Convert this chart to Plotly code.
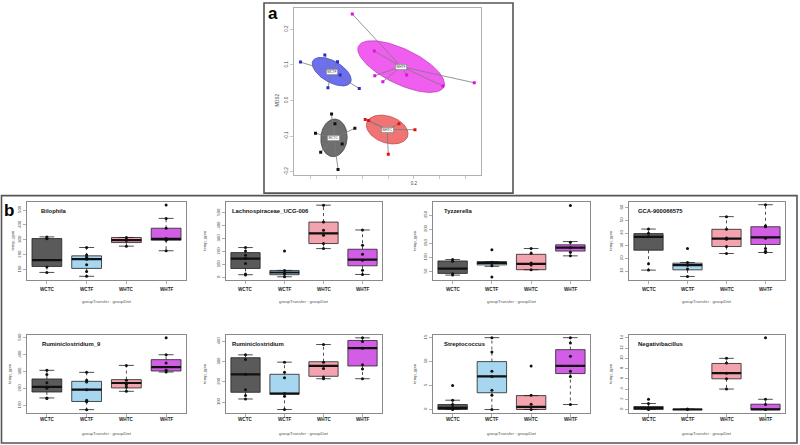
import numpy as np
import plotly.graph_objects as go

# ---------------- Panel a: NMDS ordination ----------------
NMDS_GROUPS = ["WCTC", "WCTF", "WHTC", "WHTF"]
WCTC_MDS1 = [-0.118, -0.105, -0.180, -0.028, -0.077, -0.160, -0.093]
WCTC_MDS2 = [-0.038, -0.065, -0.092, -0.078, -0.122, -0.145, -0.194]
WCTF_MDS1 = [-0.238, -0.144, -0.095, -0.085, -0.132, -0.011]
WCTF_MDS2 = [0.108, 0.128, 0.109, 0.072, 0.036, 0.034]
WHTC_MDS1 = [0.012, 0.025, 0.142, 0.204, 0.101]
WHTC_MDS2 = [-0.053, -0.056, -0.065, -0.082, -0.151]
WHTF_MDS1 = [-0.038, 0.047, 0.049, 0.080, 0.172, 0.312, 0.433]
WHTF_MDS2 = [0.243, 0.139, 0.070, 0.053, 0.072, 0.041, 0.050]
NMDS_X_TICKS = [-0.2, -0.1, 0.0, 0.1, 0.2, 0.3, 0.4]
NMDS_X_TICK_TEXT = ["", "", "", "", "0.2", "", ""]
NMDS_Y_TICKS = [-0.2, -0.1, 0.0, 0.1, 0.2]
NMDS_Y_TICK_TEXT = ["-0.2", "-0.1", "0.0", "0.1", "0.2"]

# ---------------- Panel b: boxplots ----------------
TAXA = ["Bilophila", "Lachnospiraceae_UCG-006", "Tyzzerella", "GCA-900066575",
        "Ruminiclostridium_9", "Ruminiclostridium", "Streptococcus", "Negativibacillus"]
GROUPS = ["WCTC", "WCTF", "WHTC", "WHTF"]

WHISKER_LOW = [
    [82, 56, 258, 227],
    [21, 5, 223, 23],
    [38, 69, 57, 106],
    [10.8, 5.8, 23.9, 24.7],
    [145, 76, 184, 298],
    [116, 64, 216, 216],
    [0, 0, 0, 1.04],
    [0, 0, 4, 0],
]
Q1 = [
    [122, 109, 282, 298],
    [69, 21, 262, 90],
    [44, 74, 57, 123],
    [26.5, 11, 29.4, 31],
    [180, 124, 204, 304],
    [149, 139, 228, 279],
    [0, 3.5, 0, 7.5],
    [0, 0, 6, 0],
]
MEDIAN = [
    [164, 171, 298, 307],
    [146, 38, 341, 138],
    [61, 81, 78, 135],
    [37, 14.7, 35.7, 36.7],
    [210, 194, 233, 327],
    [238, 143, 280, 367],
    [0.35, 6.9, 0.55, 9.1],
    [0.3, 0, 7.1, 0],
]
Q3 = [
    [309, 193, 316, 378],
    [192, 54, 428, 218],
    [88, 85.5, 111.5, 145],
    [39.6, 16.3, 43, 45],
    [257, 243, 253, 371],
    [320, 238, 300, 405],
    [1.04, 10, 2.9, 12.5],
    [0.58, 0.1, 9, 1.04],
]
WHISKER_HIGH = [
    [320, 249, 316, 444],
    [231, 54, 559, 367],
    [93, 85.5, 132, 156.5],
    [43.2, 16.8, 53, 62.4],
    [308, 296, 337, 400],
    [334, 298, 385, 418],
    [1.94, 15, 2.9, 15],
    [1.17, 0.1, 10, 2],
]
POINTS = [
    [[82, 118, 308, 313, 320], [56, 89, 133, 171, 184, 198, 249], [258, 296, 304, 316], [227, 298, 309, 378, 444, 533]],
    [[18, 26, 108, 146, 172, 205, 231], [5, 26, 38, 54, 205], [223, 262, 326, 364, 428, 559], [23, 56, 133, 180, 249, 367]],
    [[38, 43, 87, 93], [31, 71, 80, 83, 128], [57, 74, 81, 115, 132], [106, 119, 135, 154, 284]],
    [[10.8, 15.8, 37.2, 39.8, 43.2], [5.8, 11.6, 14.7, 16.8, 27.8], [23.9, 29.4, 35.1, 36.2, 43, 53], [24.7, 25.7, 27.8, 36, 45, 45.9, 62.4]],
    [[141, 145, 202, 210, 235, 284, 308], [76, 122, 131, 194, 239, 249, 296], [184, 210, 224, 249, 337], [298, 308, 351, 400, 500]],
    [[116, 133, 161, 238, 311, 334], [64, 130, 143, 221, 248, 298], [216, 225, 266, 297, 385], [216, 264, 285, 367, 400, 418]],
    [[0, 0.4, 1.04, 1.94, 5], [0, 3, 4, 6.9, 8, 12, 15], [0, 1.1, 3, 9.1], [1.04, 6.9, 8, 11.1, 13.9, 15]],
    [[0, 0.3, 1.17, 2], [0, 0.1], [4, 6, 7.1, 9.07, 10], [0, 1, 2, 14]],
]
Y_TICKS = [
    [100, 200, 300, 400, 500],
    [0, 100, 200, 300, 400, 500],
    [50, 100, 150, 200, 250],
    [10, 20, 30, 40, 50, 60],
    [100, 200, 300, 400, 500],
    [100, 200, 300, 400],
    [0, 5, 10, 15],
    [0, 2, 4, 6, 8, 10, 12, 14],
]
Y_RANGES = [
    [33, 555], [-18, 585], [21.6, 297], [3.2, 64.7],
    [57, 517.6], [47.5, 433], [-0.7, 15.6], [-0.65, 14.6],
]

# ---------------- styling / layout helpers ----------------
W, H = 800, 445
FONT = "Liberation Sans, Arial, sans-serif"
BOX_FILL = ["#5a5a5a", "#a7d6f0", "#f2a3ad", "#d35ee6"]
NMDS_FILL = {"WCTC": "#6e6e6e", "WCTF": "#6c6ff0", "WHTC": "#f07474", "WHTF": "#f05ef0"}
NMDS_EDGE = {"WCTC": "#444444", "WCTF": "#4a4ab0", "WHTC": "#c05050", "WHTF": "#c040c0"}
NMDS_PT = {"WCTC": "#111111", "WCTF": "#2b2bcc", "WHTC": "#e01010", "WHTF": "#e010e0"}


def fx(px):
    return px / W


def fy(py):
    return 1 - py / H


def note(x, y, text, size, color="#222", angle=0, xanchor="center"):
    return dict(x=fx(x), y=fy(y), xref="paper", yref="paper", text=text, textangle=angle,
                showarrow=False, xanchor=xanchor, yanchor="middle",
                font=dict(size=size, color=color, family=FONT))


fig = go.Figure()
annotations = []
shapes = []

# ---------- panel a ----------
nmds_data = {
    "WCTC": (WCTC_MDS1, WCTC_MDS2),
    "WCTF": (WCTF_MDS1, WCTF_MDS2),
    "WHTC": (WHTC_MDS1, WHTC_MDS2),
    "WHTF": (WHTF_MDS1, WHTF_MDS2),
}
t = np.linspace(0, 2 * np.pi, 121)
for g in NMDS_GROUPS:
    xs, ys = np.array(nmds_data[g][0]), np.array(nmds_data[g][1])
    cx, cy = xs.mean(), ys.mean()
    cov = np.cov(np.vstack([xs, ys]))
    L = np.linalg.cholesky(cov)
    ell = L @ np.vstack([np.cos(t), np.sin(t)])
    fig.add_trace(go.Scatter(x=cx + ell[0], y=cy + ell[1], mode="lines", fill="toself",
                             fillcolor=NMDS_FILL[g], line=dict(color=NMDS_EDGE[g], width=0.8),
                             xaxis="x", yaxis="y", hoverinfo="skip", showlegend=False))
for g in NMDS_GROUPS:
    xs, ys = np.array(nmds_data[g][0]), np.array(nmds_data[g][1])
    cx, cy = xs.mean(), ys.mean()
    lx, ly = [], []
    for a, b in zip(xs, ys):
        lx += [cx, a, None]
        ly += [cy, b, None]
    fig.add_trace(go.Scatter(x=lx, y=ly, mode="lines", line=dict(color="#7a7a7a", width=0.8),
                             xaxis="x", yaxis="y", hoverinfo="skip", showlegend=False))
    fig.add_trace(go.Scatter(x=xs, y=ys, mode="markers",
                             marker=dict(symbol="square", size=3, color=NMDS_PT[g]),
                             xaxis="x", yaxis="y", hoverinfo="skip", showlegend=False))
    annotations.append(dict(x=cx, y=cy, xref="x", yref="y", text=g, showarrow=False,
                            xanchor="center", yanchor="middle",
                            font=dict(size=3.2, color="#333", family=FONT),
                            bgcolor="white", bordercolor="#777", borderwidth=0.6, borderpad=0.6))

axis_common = dict(showgrid=False, zeroline=False, showline=True, mirror=True,
                   ticks="outside", ticklen=3, tickwidth=0.7)

layout_axes = {}
layout_axes["xaxis"] = dict(axis_common, domain=[fx(294), fx(481)], range=[-0.263, 0.459],
                            tickvals=NMDS_X_TICKS, ticktext=NMDS_X_TICK_TEXT, anchor="y",
                            linecolor="#b0b0b0", tickcolor="#b0b0b0",
                            tickfont=dict(size=4.5, color="#444", family=FONT))
layout_axes["yaxis"] = dict(axis_common, domain=[fy(174), fy(6)], range=[-0.2098, 0.2601],
                            tickvals=NMDS_Y_TICKS, ticktext=NMDS_Y_TICK_TEXT, anchor="x",
                            tickangle=-90, linecolor="#b0b0b0", tickcolor="#b0b0b0",
                            tickfont=dict(size=4.5, color="#444", family=FONT))
annotations.append(note(278, 99, "MDS2", 4.5, "#444", angle=-90))
annotations.append(note(272.5, 11.5, "<b>a</b>", 17, "black"))
shapes.append(dict(type="rect", xref="paper", yref="paper", x0=fx(264), x1=fx(513),
                   y0=fy(192), y1=fy(1), line=dict(color="#555", width=1.6)))

# ---------- panel b ----------
COL_LEFT = [27, 226, 433, 629]
COL_RIGHT = [186, 382, 590, 785]
ROW_TOP = [200.7, 334.3]
ROW_BOTTOM = [279, 412.7]
TITLE_DX = [11.5, 3.5, 9, 6.5, 12.5, 4.3, 9, 6.5]
YLAB_X = [12.7, 205, 415, 611, 10, 205, 415, 611]
CAT_Y = [288.5, 419]
XLAB_Y = [301, 433]
BOX_W = 0.75

for i, taxon in enumerate(TAXA):
    r, c = divmod(i, 4)
    n = i + 2
    xa, ya = f"x{n}", f"y{n}"
    l, rr, tp, bt = COL_LEFT[c], COL_RIGHT[c], ROW_TOP[r], ROW_BOTTOM[r]
    layout_axes[f"xaxis{n}"] = dict(axis_common, domain=[fx(l), fx(rr)], range=[0.5, 4.5],
                                    tickvals=[1, 2, 3, 4], showticklabels=False, anchor=ya,
                                    linecolor="#8a8a8a", tickcolor="#8a8a8a")
    layout_axes[f"yaxis{n}"] = dict(axis_common, domain=[fy(bt), fy(tp)], range=Y_RANGES[i],
                                    tickvals=Y_TICKS[i], ticktext=[f"{v:g}" for v in Y_TICKS[i]],
                                    tickangle=-90, anchor=xa, linecolor="#8a8a8a", tickcolor="#8a8a8a",
                                    tickfont=dict(size=4.2, color="#444", family=FONT))
    wx, wy, sx, sy, mx, my, px_, py_ = [], [], [], [], [], [], [], []
    for j, g in enumerate(GROUPS):
        pos = j + 1
        fig.add_trace(go.Box(x=[pos], q1=[Q1[i][j]], median=[MEDIAN[i][j]], q3=[Q3[i][j]],
                             lowerfence=[Q1[i][j]], upperfence=[Q3[i][j]], width=BOX_W,
                             fillcolor=BOX_FILL[j], line=dict(color="#222", width=0.8),
                             whiskerwidth=0, boxpoints=False, xaxis=xa, yaxis=ya,
                             hoverinfo="skip", showlegend=False))
        wx += [pos, pos, None, pos, pos, None]
        wy += [Q3[i][j], WHISKER_HIGH[i][j], None, Q1[i][j], WHISKER_LOW[i][j], None]
        sx += [pos - BOX_W / 4, pos + BOX_W / 4, None, pos - BOX_W / 4, pos + BOX_W / 4, None]
        sy += [WHISKER_HIGH[i][j], WHISKER_HIGH[i][j], None, WHISKER_LOW[i][j], WHISKER_LOW[i][j], None]
        mx += [pos - BOX_W / 2, pos + BOX_W / 2, None]
        my += [MEDIAN[i][j], MEDIAN[i][j], None]
        px_ += [pos] * len(POINTS[i][j])
        py_ += POINTS[i][j]
        annotations.append(dict(x=pos, y=fy(CAT_Y[r]), xref=xa, yref="paper", text=f"<b>{g}</b>",
                                showarrow=False, xanchor="center", yanchor="middle",
                                font=dict(size=4.6, color="#222", family=FONT)))
    fig.add_trace(go.Scatter(x=wx, y=wy, mode="lines", line=dict(color="#222", width=0.8, dash="dot"),
                             xaxis=xa, yaxis=ya, hoverinfo="skip", showlegend=False))
    fig.add_trace(go.Scatter(x=sx, y=sy, mode="lines", line=dict(color="#222", width=0.8),
                             xaxis=xa, yaxis=ya, hoverinfo="skip", showlegend=False))
    fig.add_trace(go.Scatter(x=mx, y=my, mode="lines", line=dict(color="#111", width=2.2),
                             xaxis=xa, yaxis=ya, hoverinfo="skip", showlegend=False))
    fig.add_trace(go.Scatter(x=px_, y=py_, mode="markers", marker=dict(size=3, color="#111"),
                             xaxis=xa, yaxis=ya, hoverinfo="skip", showlegend=False))
    annotations.append(note(l + TITLE_DX[i], tp + 9.5, f"<b>{taxon}</b>", 5.9, "#111", xanchor="left"))
    annotations.append(note((l + rr) / 2, XLAB_Y[r], "groupTransfer : groupDiet", 4.3, "#555"))
    annotations.append(note(YLAB_X[i], (tp + bt) / 2, "temp_gpm", 4.2, "#555", angle=-90))

annotations.append(note(9, 209, "<b>b</b>", 17, "black"))
shapes.append(dict(type="rect", xref="paper", yref="paper", x0=fx(1.5), x1=fx(797),
                   y0=fy(443), y1=fy(194.5), line=dict(color="#555", width=1.6)))

fig.update_layout(width=W, height=H, margin=dict(l=0, r=0, t=0, b=0),
                  paper_bgcolor="white", plot_bgcolor="white", showlegend=False,
                  font=dict(family=FONT), annotations=annotations, shapes=shapes,
                  boxmode="overlay", **layout_axes)
fig.write_html("out.html", config={"displayModeBar": False, "staticPlot": True},
               post_script="document.body.style.margin='0px';document.body.style.overflow='hidden';"
                           "document.documentElement.style.overflow='hidden';")
